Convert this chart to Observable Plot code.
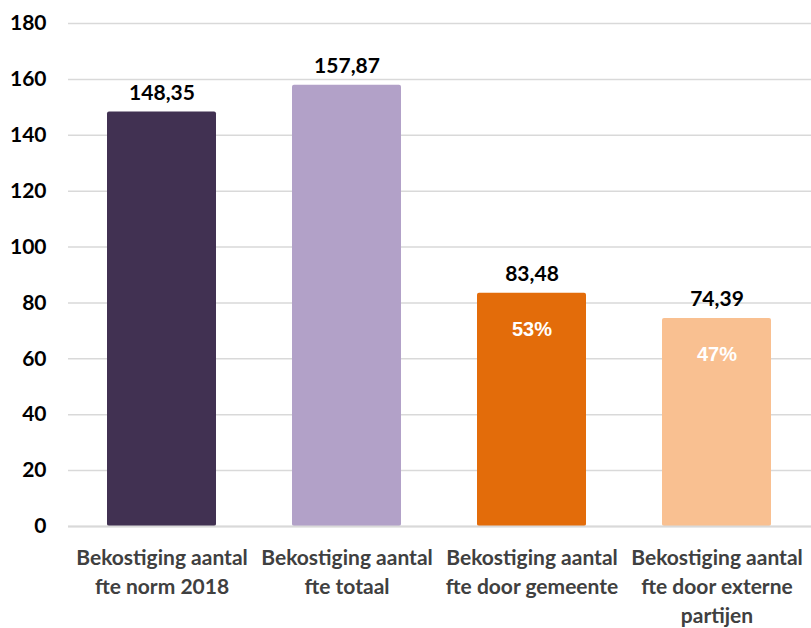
<!DOCTYPE html>
<html>
<head>
<meta charset="utf-8">
<script src="https://cdn.jsdelivr.net/npm/d3@7"></script>
<script src="https://cdn.jsdelivr.net/npm/@observablehq/plot@0.6"></script>
<style>
  html, body { margin: 0; padding: 0; background: #fff; }
  #chart { width: 811px; height: 628px; }
</style>
</head>
<body>
<div id="chart"></div>
<script>
const categories = [
  "Bekostiging aantal\nfte norm 2018",
  "Bekostiging aantal\nfte totaal",
  "Bekostiging aantal\nfte door gemeente",
  "Bekostiging aantal\nfte door externe\npartijen"
];
const values = [148.35, 157.87, 83.48, 74.39];
const shares = [null, null, 53, 47];
const colors = ["#413152", "#b2a1c8", "#e36c0a", "#f9c091"];
const yTicks = [0, 20, 40, 60, 80, 100, 120, 140, 160, 180];

const data = categories.map((c, i) => ({cat: c, value: values[i], share: shares[i], color: colors[i]}));
const nl = d3.formatLocale({decimal: ",", thousands: ".", grouping: [3], currency: ["€", ""]});
const fmt = nl.format(".2f");

const chart = Plot.plot({
  width: 811,
  height: 628,
  marginLeft: 68,
  marginRight: 0,
  marginTop: 23,
  marginBottom: 102,
  style: {fontFamily: "Lato, 'Open Sans', sans-serif", background: "#fff", overflow: "visible"},
  x: {domain: categories, paddingInner: 0.41, paddingOuter: 0.205, label: null},
  y: {domain: [0, 180], label: null},
  marks: [
    Plot.ruleY(yTicks, {stroke: "#d9d9d9", strokeWidth: 1.5}),
    Plot.barY(data, {x: "cat", y: "value", fill: "color", rx: 2}),
    Plot.ruleY([0], {stroke: "#d9d9d9", strokeWidth: 2}),
    Plot.axisY({ticks: yTicks, tickSize: 0, tickPadding: 22, fontSize: 21, fontWeight: "bold", fill: "#000", label: null}),
    Plot.axisX({tickSize: 0, tickPadding: 18, fontSize: 21, fontWeight: "bold", fill: "#404040", lineHeight: 1.38, label: null}),
    Plot.text(data, {x: "cat", y: "value", text: d => fmt(d.value), dy: -19, fontSize: 21, fontWeight: "bold", fill: "#000"}),
    Plot.text(data.filter(d => d.share != null), {x: "cat", y: "value", text: d => d.share + "%", dy: 36, fontSize: 20, fontWeight: "bold", fill: "#fff", fontFamily: "Liberation Sans, Arial, sans-serif"})
  ]
});
document.getElementById("chart").appendChild(chart);
</script>
</body>
</html>
